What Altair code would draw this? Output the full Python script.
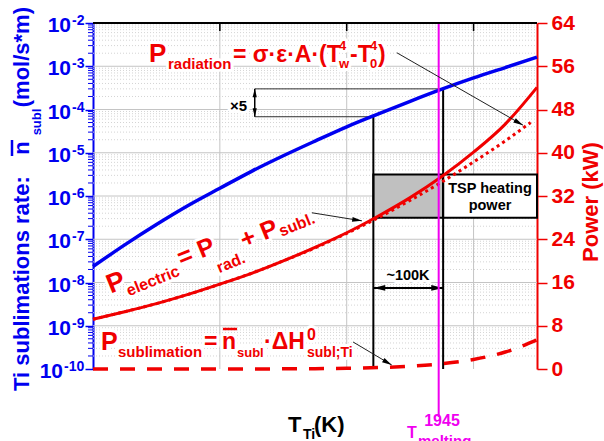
import altair as alt
import pandas as pd

# ---------------- data ----------------
T = [1400, 1450, 1500, 1550, 1600, 1650, 1700, 1750, 1800, 1850, 1900, 1950, 2000, 2050, 2100]
N_SUBL = [2.34e-8, 7.41e-8, 2.19e-7, 6.03e-7, 1.51e-6, 3.72e-6, 8.51e-6, 1.86e-5,
          3.98e-5, 7.94e-5, 1.55e-4, 2.95e-4, 5.37e-4, 9.33e-4, 1.62e-3]
P_ELEC = [9.2, 10.6, 12.1, 13.8, 15.7, 17.7, 20.0, 22.5, 25.2, 28.3, 31.7, 35.6, 40.1, 45.3, 52.1]
P_SUBL = [0.0, 0.0, 0.0, 0.0, 0.01, 0.01, 0.03, 0.06, 0.13, 0.27, 0.52, 0.97, 1.77, 3.14, 5.4]
T_RAD = [1400, 1450, 1500, 1550, 1600, 1650, 1700, 1750, 1800, 1850, 1900, 1950, 2000, 2050, 2090]
P_RAD = [9.2, 10.6, 12.1, 13.8, 15.7, 17.7, 20.0, 22.4, 25.1, 28.0, 31.2, 34.6, 38.3, 42.2, 45.6]

X_TICKS = [1400, 1600, 1800, 2000]
X_GRID = [1600, 1800, 2000]
LOG_TICKS = [1e-10, 1e-9, 1e-8, 1e-7, 1e-6, 1e-5, 1e-4, 1e-3, 1e-2]
LOG_EXP = ['-10', '-9', '-8', '-7', '-6', '-5', '-4', '-3', '-2']
LOG_MINOR = [m * d for d in LOG_TICKS[:-1] for m in range(2, 10)]
KW_TICKS = [0, 8, 16, 24, 32, 40, 48, 56, 64]

T_MELT = 1945
T_LOW, T_HIGH = 1842, 1952
N_LOW, N_HIGH = 6.8e-5, 3.0e-4
T_X5 = 1655
TSP_LOW, TSP_HIGH = 28, 36
KW_100K = 15.0

ARROW_T1 = [1879, 1745, 1810]
ARROW_P1 = [58.5, 28.9, 5.0]
ARROW_T2 = [2078, 1824, 1871]
ARROW_P2 = [45.1, 27.4, 0.74]
ARROW_ANG = [120, 99, 120]

# ---------------- layout / style ----------------
W, H = 444, 346
PAD_L, PAD_T, PAD_R, PAD_B = 93, 23, 67, 72
BLUE = '#0000f0'
RED = '#f00000'
MAG = '#f000f0'
FONT = 'Liberation Sans'
ARROW_PATH = 'M0,0 L0.4,1.6 L-0.4,1.6 Z'

xs = alt.Scale(domain=[1400, 2100], nice=False, zero=False)
ys_log = alt.Scale(type='log', domain=[1e-10, 1e-2], nice=False)
ys_kw = alt.Scale(domain=[0, 64], nice=False, zero=False)

x_axis = alt.Axis(values=X_TICKS, format='d', labelFont=FONT, labelFontSize=20,
                  labelFontWeight='bold', labelColor='black', tickColor='black',
                  tickSize=8, tickWidth=1.5, domainColor='black', domainWidth=2,
                  grid=False, title=None, labelPadding=7, labelFlush=False)
left_axis = alt.Axis(orient='left', values=LOG_TICKS, labels=False,
                     tickColor=BLUE, tickSize=8, tickWidth=1.5,
                     domainColor=BLUE, domainWidth=2, grid=False, title=None)
right_axis = alt.Axis(orient='right', values=KW_TICKS, labelFont=FONT, labelFontSize=21,
                      labelFontWeight='bold', labelColor=RED, tickColor=RED, tickSize=10,
                      tickWidth=1.5, domainColor=RED, domainWidth=2, grid=False,
                      title=None, labelPadding=4, labelFlush=False)

ONE = pd.DataFrame({'k': [0]})
layers = []

# ---- grids ----
minor_df = pd.DataFrame({'v': LOG_MINOR})
layers.append(alt.Chart(minor_df).mark_rule(color='#d4d4d4', strokeWidth=1, strokeDash=[1, 2]).encode(
    y=alt.Y('v:Q', scale=ys_log, axis=None), x=alt.value(0), x2=alt.value(W)))
layers.append(alt.Chart(minor_df).mark_rule(color=BLUE, strokeWidth=1).encode(
    y=alt.Y('v:Q', scale=ys_log, axis=None), x=alt.value(-5), x2=alt.value(0)))
major_df = pd.DataFrame({'v': LOG_TICKS[1:-1]})
layers.append(alt.Chart(major_df).mark_rule(color='#c4c4c4', strokeWidth=1).encode(
    y=alt.Y('v:Q', scale=ys_log, axis=None), x=alt.value(0), x2=alt.value(W)))
layers.append(alt.Chart(pd.DataFrame({'T': X_GRID})).mark_rule(color='#c4c4c4', strokeWidth=1).encode(
    x=alt.X('T:Q', scale=xs, axis=None), y=alt.value(0), y2=alt.value(H)))

# ---- left tick labels: "10" with raised exponent ----
lab_df = pd.DataFrame({'v': LOG_TICKS, 'e': LOG_EXP})
for sel, xr in [(lab_df['e'].str.len() == 3, 63), (lab_df['e'].str.len() == 2, 71)]:
    sub = lab_df[sel]
    layers.append(alt.Chart(sub).mark_text(text='10', font=FONT, fontSize=21, fontWeight='bold',
                                           color=BLUE, align='right', baseline='middle', dy=3).encode(
        y=alt.Y('v:Q', scale=ys_log, axis=None), x=alt.value(xr - PAD_L)))
    layers.append(alt.Chart(sub).mark_text(font=FONT, fontSize=14, fontWeight='bold',
                                           color=BLUE, align='left', baseline='alphabetic', dy=2).encode(
        y=alt.Y('v:Q', scale=ys_log, axis=None), x=alt.value(xr + 1 - PAD_L), text='e:N'))

# ---- text definitions ----
TEXTS = [
    # P_radiation
    ('P', 149, 62, 26, RED, 0, 'left', 'alphabetic', True),
    ('radiation', 168, 69, 15, RED, 0, 'left', 'alphabetic', True),
    ('= σ·ε·A·(T', 233, 62, 23, RED, 0, 'left', 'alphabetic', True),
    ('4', 339, 50, 13, RED, 0, 'left', 'alphabetic', True),
    ('w', 339, 68, 13, RED, 0, 'left', 'alphabetic', True),
    ('-T', 350, 62, 23, RED, 0, 'left', 'alphabetic', True),
    ('4', 370, 50, 13, RED, 0, 'left', 'alphabetic', True),
    ('0', 370, 68, 13, RED, 0, 'left', 'alphabetic', True),
    (')', 378, 62, 23, RED, 0, 'left', 'alphabetic', True),
    # P_electric (slanted)
    ('P', 116, 283, 27, RED, 338, 'center', 'middle', True),
    ('electric', 153, 281, 16, RED, 338, 'center', 'middle', True),
    ('= P', 196, 252, 25, RED, 338, 'center', 'middle', True),
    ('rad.', 231, 263, 16, RED, 338, 'center', 'middle', True),
    ('+ P', 259, 234, 25, RED, 338, 'center', 'middle', True),
    ('subl.', 297, 225, 16, RED, 338, 'center', 'middle', True),
    # P_sublimation
    ('P', 101, 350, 25, RED, 0, 'left', 'alphabetic', True),
    ('sublimation', 118, 357, 15, RED, 0, 'left', 'alphabetic', True),
    ('=', 204, 349, 23, RED, 0, 'left', 'alphabetic', True),
    ('n', 222, 349, 23, RED, 0, 'left', 'alphabetic', True),
    ('subl', 237, 357, 13, RED, 0, 'left', 'alphabetic', True),
    ('·ΔH', 264, 349, 23, RED, 0, 'left', 'alphabetic', True),
    ('0', 307, 340, 16, RED, 0, 'left', 'alphabetic', True),
    ('subl;Ti', 307, 357, 14, RED, 0, 'left', 'alphabetic', True),
    # small black labels
    ('×5', 247, 106, 15, 'black', 0, 'right', 'middle', True),
    ('~100K', 408, 276, 14.5, 'black', 0, 'center', 'middle', True),
    ('TSP heating', 490, 189, 14.5, 'black', 0, 'center', 'middle', False),
    ('power', 490, 206, 14.5, 'black', 0, 'center', 'middle', False),
    # melting label
    ('1945', 442, 421, 16, MAG, 0, 'center', 'middle', False),
    ('T', 407, 438, 16, MAG, 0, 'left', 'alphabetic', False),
    ('melting', 418, 446, 15, MAG, 0, 'left', 'alphabetic', False),
    # x title
    ('T', 288, 432, 22, 'black', 0, 'left', 'alphabetic', False),
    ('Ti', 303, 439, 14, 'black', 0, 'left', 'alphabetic', False),
    ('(K)', 314, 432, 22, 'black', 0, 'left', 'alphabetic', False),
    # left title
    ('Ti sublimations rate:', 22, 391, 22, BLUE, 270, 'left', 'middle', False),
    ('n', 22, 148, 22, BLUE, 270, 'center', 'middle', False),
    ('subl', 37, 122, 13, BLUE, 270, 'center', 'middle', False),
    ('(mol/s*m)', 22, 7, 22, BLUE, 270, 'right', 'middle', False),
    # right title
    ('Power (kW)', 591, 202, 22, RED, 270, 'center', 'middle', False),
]


def text_layer(t, halo=False):
    s, px, py, size, color, angle, align, baseline, _ = t
    props = dict(text=s, font=FONT, fontSize=size, fontWeight='bold', angle=angle,
                 align=align, baseline=baseline)
    if halo:
        props.update(color='white', stroke='white', strokeWidth=6, strokeJoin='round')
    else:
        props.update(color=color)
    return alt.Chart(ONE).mark_text(**props).encode(
        x=alt.value(px - PAD_L), y=alt.value(py - PAD_T))


for t in TEXTS:
    if t[8]:
        layers.append(text_layer(t, halo=True))

# ---- boxes ----
box_df = pd.DataFrame({'t1': [T_LOW], 't2': [T_HIGH], 'p1': [TSP_LOW], 'p2': [TSP_HIGH]})
layers.append(alt.Chart(box_df).mark_rect(fill='#c0c0c0', stroke='black', strokeWidth=2).encode(
    x=alt.X('t1:Q', scale=xs, axis=None), x2='t2:Q',
    y=alt.Y('p1:Q', scale=ys_kw, axis=None), y2='p2:Q'))
wbox_df = pd.DataFrame({'t1': [T_HIGH], 't2': [2100], 'p1': [TSP_LOW], 'p2': [TSP_HIGH]})
layers.append(alt.Chart(wbox_df).mark_rect(fill='white', stroke='black', strokeWidth=2).encode(
    x=alt.X('t1:Q', scale=xs, axis=None), x2='t2:Q',
    y=alt.Y('p1:Q', scale=ys_kw, axis=None), y2='p2:Q'))

# ---- black construction lines (log scale) ----
vl_df = pd.DataFrame({'T': [T_LOW, T_HIGH], 'n1': [N_LOW, N_HIGH], 'n2': [1e-10, 1e-10]})
layers.append(alt.Chart(vl_df).mark_rule(color='black', strokeWidth=2).encode(
    x=alt.X('T:Q', scale=xs, axis=None),
    y=alt.Y('n1:Q', scale=ys_log, axis=None), y2='n2:Q'))
hl_df = pd.DataFrame({'t1': [T_X5, T_X5], 't2': [T_LOW, T_HIGH], 'n': [N_LOW, N_HIGH]})
layers.append(alt.Chart(hl_df).mark_rule(color='#303030', strokeWidth=1).encode(
    x=alt.X('t1:Q', scale=xs, axis=None), x2='t2:Q',
    y=alt.Y('n:Q', scale=ys_log, axis=None)))
# x5 double arrow
x5_df = pd.DataFrame({'T': [T_X5], 'n1': [N_HIGH], 'n2': [N_LOW]})
layers.append(alt.Chart(x5_df).mark_rule(color='black', strokeWidth=1.5).encode(
    x=alt.X('T:Q', scale=xs, axis=None),
    y=alt.Y('n1:Q', scale=ys_log, axis=None), y2='n2:Q'))
x5h_df = pd.DataFrame({'T': [T_X5, T_X5], 'n': [N_HIGH, N_LOW], 'a': [0, 180]})
layers.append(alt.Chart(x5h_df).mark_point(shape=ARROW_PATH, filled=True, color='black',
                                          size=110, opacity=1).encode(
    x=alt.X('T:Q', scale=xs, axis=None),
    y=alt.Y('n:Q', scale=ys_log, axis=None),
    angle=alt.Angle('a:Q', scale=None)))
# ~100K double arrow
k_df = pd.DataFrame({'t1': [T_LOW], 't2': [T_HIGH], 'p': [KW_100K]})
layers.append(alt.Chart(k_df).mark_rule(color='black', strokeWidth=2).encode(
    x=alt.X('t1:Q', scale=xs, axis=None), x2='t2:Q',
    y=alt.Y('p:Q', scale=ys_kw, axis=None)))
kh_df = pd.DataFrame({'T': [T_LOW, T_HIGH], 'p': [KW_100K, KW_100K], 'a': [270, 90]})
layers.append(alt.Chart(kh_df).mark_point(shape=ARROW_PATH, filled=True, color='black',
                                         size=220, opacity=1).encode(
    x=alt.X('T:Q', scale=xs, axis=None),
    y=alt.Y('p:Q', scale=ys_kw, axis=None),
    angle=alt.Angle('a:Q', scale=None)))

# ---- curves ----
cur = pd.DataFrame({'T': T, 'n': N_SUBL, 'pe': P_ELEC, 'ps': P_SUBL})
rad = pd.DataFrame({'T': T_RAD, 'pr': P_RAD})
layers.append(alt.Chart(cur).mark_line(color=RED, strokeWidth=3.5, strokeDash=[15, 12],
                                       interpolate='monotone').encode(
    x=alt.X('T:Q', scale=xs, axis=None), y=alt.Y('ps:Q', scale=ys_kw, axis=None)))
layers.append(alt.Chart(rad).mark_line(color=RED, strokeWidth=3, strokeDash=[3, 3.5],
                                       interpolate='monotone').encode(
    x=alt.X('T:Q', scale=xs, axis=None), y=alt.Y('pr:Q', scale=ys_kw, axis=None)))
layers.append(alt.Chart(cur).mark_line(color=RED, strokeWidth=3, interpolate='monotone').encode(
    x=alt.X('T:Q', scale=xs, axis=None), y=alt.Y('pe:Q', scale=ys_kw, axis=right_axis)))
layers.append(alt.Chart(cur).mark_line(color=BLUE, strokeWidth=3.5, interpolate='monotone').encode(
    x=alt.X('T:Q', scale=xs, axis=x_axis), y=alt.Y('n:Q', scale=ys_log, axis=left_axis)))

# ---- melting line ----
layers.append(alt.Chart(pd.DataFrame({'T': [T_MELT]})).mark_rule(color=MAG, strokeWidth=2).encode(
    x=alt.X('T:Q', scale=xs, axis=None), y=alt.value(0), y2=alt.value(394)))

# ---- annotation arrows ----
ar_df = pd.DataFrame({'t1': ARROW_T1, 'p1': ARROW_P1, 't2': ARROW_T2, 'p2': ARROW_P2, 'a': ARROW_ANG})
layers.append(alt.Chart(ar_df).mark_rule(color='#202020', strokeWidth=1).encode(
    x=alt.X('t1:Q', scale=xs, axis=None), x2='t2:Q',
    y=alt.Y('p1:Q', scale=ys_kw, axis=None), y2='p2:Q'))
layers.append(alt.Chart(ar_df).mark_point(shape=ARROW_PATH, filled=True, color='black',
                                         size=150, opacity=1).encode(
    x=alt.X('t2:Q', scale=xs, axis=None),
    y=alt.Y('p2:Q', scale=ys_kw, axis=None),
    angle=alt.Angle('a:Q', scale=None)))

# ---- texts ----
for t in TEXTS:
    layers.append(text_layer(t))

# overlines (n bar) for the two n-symbols
layers.append(alt.Chart(ONE).mark_rule(color=RED, strokeWidth=2.5).encode(
    x=alt.value(223 - PAD_L), x2=alt.value(237 - PAD_L), y=alt.value(329 - PAD_T)))
layers.append(alt.Chart(ONE).mark_rule(color=BLUE, strokeWidth=2.5).encode(
    x=alt.value(12 - PAD_L), y=alt.value(140 - PAD_T), y2=alt.value(156 - PAD_T)))

# ---- top frame and inward top ticks ----
layers.append(alt.Chart(ONE).mark_rule(color='black', strokeWidth=2).encode(
    x=alt.value(0), x2=alt.value(W), y=alt.value(0)))
layers.append(alt.Chart(pd.DataFrame({'T': X_GRID})).mark_rule(color='black', strokeWidth=1.5).encode(
    x=alt.X('T:Q', scale=xs, axis=None), y=alt.value(0), y2=alt.value(8)))

chart = alt.layer(*layers).resolve_scale(y='independent').properties(
    width=W, height=H,
    autosize=alt.AutoSizeParams(type='none'),
    padding={'left': PAD_L, 'top': PAD_T, 'right': PAD_R, 'bottom': PAD_B},
).configure_view(stroke=None)

chart.save('out.html', embed_options={'renderer': 'svg', 'actions': False})
